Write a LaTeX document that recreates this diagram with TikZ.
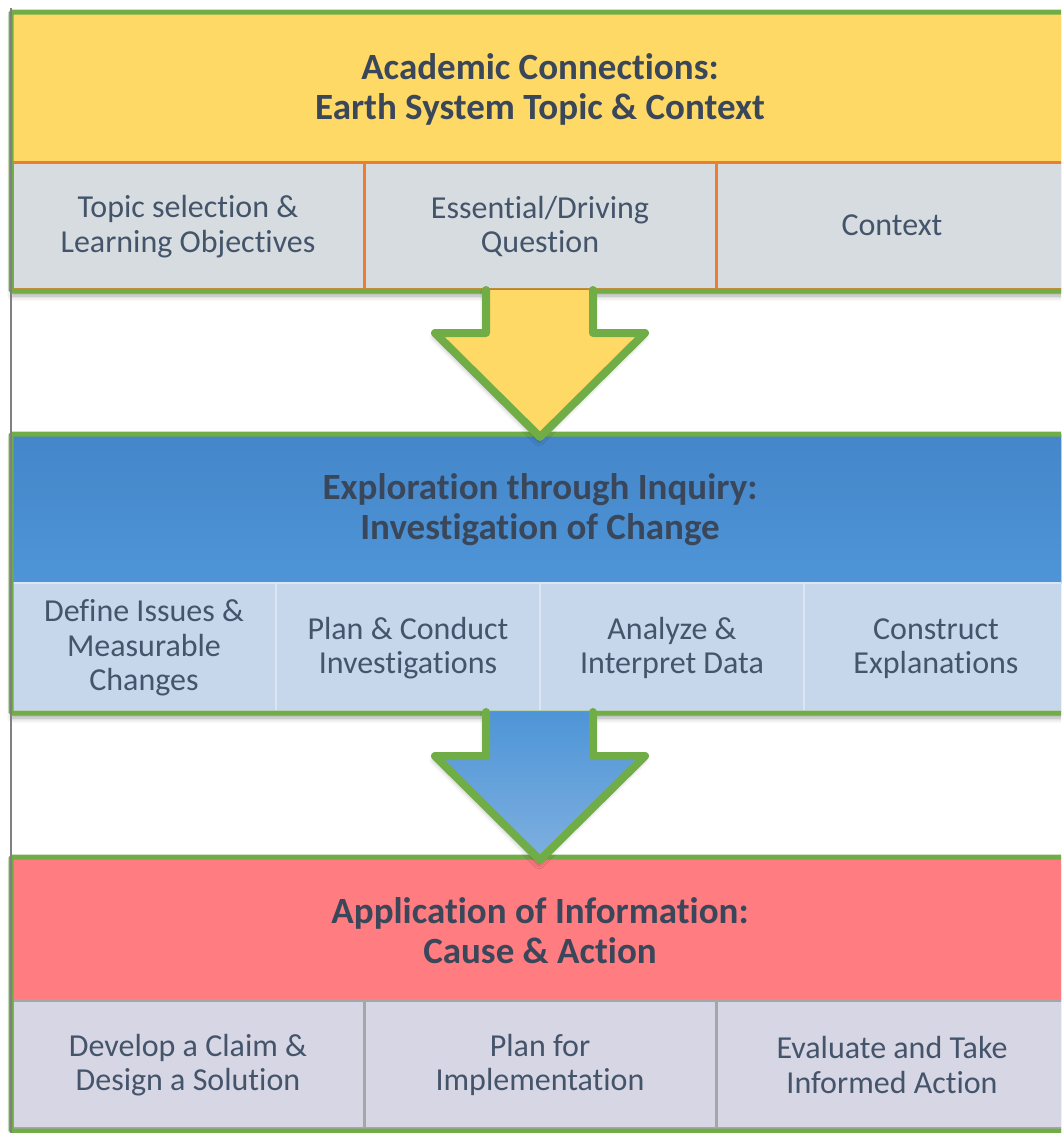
\documentclass[tikz,border=0pt]{standalone}
\usepackage{fontspec}
\setmainfont{Carlito}[Ligatures=NoCommon]
\usetikzlibrary{shadows.blur}
\definecolor{rimgreen}{HTML}{70AD47}
\definecolor{ink}{HTML}{44546A}
\definecolor{gold}{HTML}{FFD966}
\definecolor{skyA}{HTML}{4486C9}
\definecolor{skyB}{HTML}{4E95D7}
\definecolor{rose}{HTML}{FF7C80}
\definecolor{cellA}{HTML}{D6DCE0}
\definecolor{cellB}{HTML}{C6D7EC}
\definecolor{cellC}{HTML}{D7D6E4}
\definecolor{lineA}{HTML}{ED7D31}
\definecolor{lineB}{HTML}{DCE6F2}
\definecolor{lineC}{HTML}{A6A6A6}
\tikzset{
  panel/.style={fill=white, blur shadow={shadow xshift=1pt, shadow yshift=-5pt, shadow blur radius=5pt, shadow opacity=35}},
  rim/.style={draw=rimgreen, line width=5pt, rounded corners=1.5pt},
  head/.style={inner sep=0pt, align=center, text=ink!85!black, font=\fontsize{37}{40}\selectfont\bfseries},
  cell/.style={inner sep=0pt, align=center, text=ink, font=\fontsize{32}{34.5}\selectfont},
  arrowrim/.style={draw=rimgreen, line width=8pt, line join=round, line cap=round},
  arrowshade/.style={blur shadow={shadow xshift=-1pt, shadow yshift=-4pt, shadow blur radius=5pt, shadow opacity=35}},
}
\begin{document}
\begin{tikzpicture}[x=1pt, y=-1pt]
\useasboundingbox (0,0) rectangle (1061,1133);
\clip (0,0) rectangle (1061,1133);

% panel 1
\path[panel] (11,12) rectangle (1080,291);
\fill[gold] (11,12) rectangle (1080,162);
\node[head] (H_1) at (540,89) {Academic Connections:\\Earth System Topic \& Context};
\node[cell, fill=cellA, draw=lineA, line width=3pt, minimum width=352pt, minimum height=127pt] (C_1_1) at (188,225.5) {\strut Topic selection \&\\Learning Objectives};
\node[cell, fill=cellA, draw=lineA, line width=3pt, minimum width=352pt, minimum height=127pt] (C_1_2) at (540,225.5) {\strut Essential/Driving\\Question};
\node[cell, fill=cellA, draw=lineA, line width=3pt, minimum width=352pt, minimum height=127pt] (C_1_3) at (892,225.5) {Context};
\draw[rim] (11,12) rectangle (1080,291);

% panel 2
\path[panel] (11,434) rectangle (1080,713);
\fill[top color=skyA, bottom color=skyB] (11,434) rectangle (1080,583);
\node[head] (H_2) at (540,510) {Exploration through Inquiry:\\Investigation of Change};
\node[cell, fill=cellB, draw=lineB, line width=2pt, minimum width=264pt, minimum height=128pt] (C_2_1) at (144,647) {\strut Define Issues \&\\Measurable\\Changes};
\node[cell, fill=cellB, draw=lineB, line width=2pt, minimum width=264pt, minimum height=128pt] (C_2_2) at (408,647) {\strut Plan \& Conduct\\Investigations};
\node[cell, fill=cellB, draw=lineB, line width=2pt, minimum width=264pt, minimum height=128pt] (C_2_3) at (672,647) {\strut Analyze \&\\Interpret Data};
\node[cell, fill=cellB, draw=lineB, line width=2pt, minimum width=264pt, minimum height=128pt] (C_2_4) at (936,647) {\strut Construct\\Explanations};
\draw[rim] (11,434) rectangle (1080,713);

% panel 3
\path[panel] (11,857) rectangle (1080,1131);
\fill[rose] (11,857) rectangle (1080,1000);
\node[head] (H_3) at (540,931) {Application of Information:\\Cause \& Action};
\node[cell, fill=cellC, draw=lineC, line width=3pt, minimum width=352pt, minimum height=128pt] (C_3_1) at (188,1064) {\strut Develop a Claim \&\\Design a Solution};
\node[cell, fill=cellC, draw=lineC, line width=3pt, minimum width=352pt, minimum height=128pt] (C_3_2) at (540,1064) {\strut Plan for\\Implementation};
\node[cell, fill=cellC, draw=lineC, line width=3pt, minimum width=352pt, minimum height=128pt] (C_3_3) at (892,1064) {\strut Evaluate and Take\\Informed Action};
\draw[rim] (11,857) rectangle (1080,1131);

% arrow 1
\coordinate (A_1) at (540,437);
\fill[gold, arrowshade] (486,290) -- (486,333) -- (435,333) -- (A_1) -- (645,333) -- (593,333) -- (593,290) -- cycle;
\draw[arrowrim] (486,290) -- (486,333) -- (435,333) -- (A_1) -- (645,333) -- (593,333) -- (593,290);

% arrow 2
\coordinate (A_2) at (540,860);
\fill[top color=skyB, bottom color=cellB!40!skyB, arrowshade] (486,712) -- (486,756) -- (435,756) -- (A_2) -- (645,756) -- (593,756) -- (593,712) -- cycle;
\draw[arrowrim] (486,712) -- (486,756) -- (435,756) -- (A_2) -- (645,756) -- (593,756) -- (593,712);

% page edge
\draw[gray, line width=2pt] (11,8) -- (11,1133);
\end{tikzpicture}
\end{document}
